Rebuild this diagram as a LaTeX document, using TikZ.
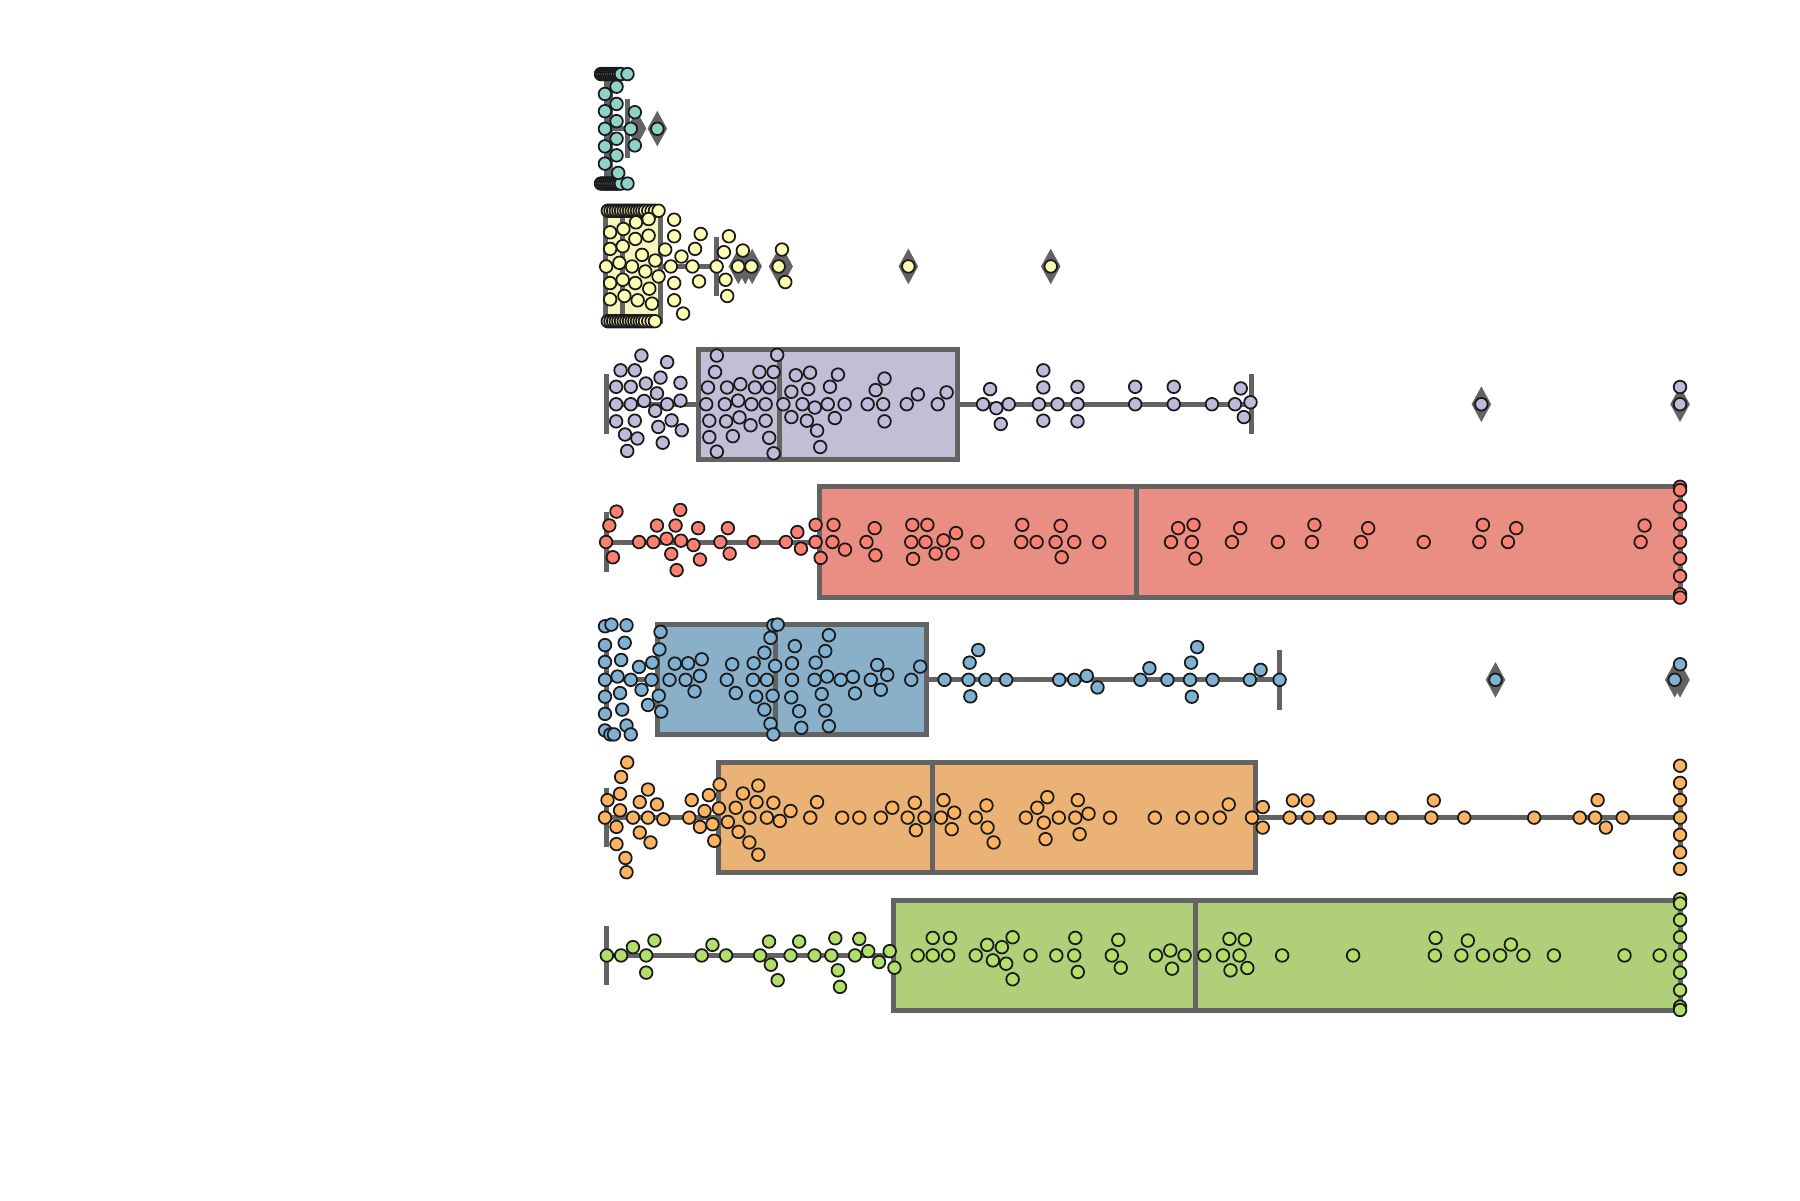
\documentclass[tikz,border=0pt]{standalone}
\definecolor{lc}{RGB}{99,99,99}
\definecolor{ec}{RGB}{26,26,26}
\definecolor{c1}{RGB}{141,211,199}
\definecolor{c2}{RGB}{255,255,179}
\definecolor{c3}{RGB}{190,186,218}
\definecolor{c4}{RGB}{251,128,114}
\definecolor{c5}{RGB}{128,177,211}
\definecolor{c6}{RGB}{253,180,98}
\definecolor{c7}{RGB}{179,222,105}
\definecolor{b1}{RGB}{150,202,193}
\definecolor{b2}{RGB}{245,245,188}
\definecolor{b3}{RGB}{193,190,214}
\definecolor{b4}{RGB}{234,142,131}
\definecolor{b5}{RGB}{138,175,201}
\definecolor{b6}{RGB}{234,179,117}
\definecolor{b7}{RGB}{175,207,120}
\tikzset{
  boxln/.style={draw=lc, line width=0.5mm},
  pt/.style={circle, inner sep=0pt, minimum size=1.26mm, draw=ec, line width=0.5pt, fill=#1},
}
\newcommand{\swarmdots}[7]{%
  \foreach \px/\py [count=\ii] in {#7} \node[pt=#1] (#2-\ii) at ({#3+#4*\px},{#5+#6*\py}) {};}
\newcommand{\flierdia}[2]{\fill[lc] ({#1},{#2-15.5}) -- ({#1+8.5},{#2}) -- ({#1},{#2+15.5}) -- ({#1-8.5},{#2}) -- cycle;}
\newcommand{\capline}[2]{\draw[boxln] ({#1},{#2-26}) -- ({#1},{#2+26});}
\begin{document}
\begin{tikzpicture}[x=0.11483mm, y=-0.11483mm]
\fill[white] (0,0) rectangle (1567.5,1045);
\useasboundingbox (0,0) rectangle (1567.5,1045);

% ---------------- row 1 (teal)
\draw[boxln] (528,112) -- (546.5,112);
\capline{528}{112}\capline{546.5}{112}
\draw[boxln, fill=b1] (528,64) rectangle (532,160);
\flierdia{554.3}{112}\flierdia{572.4}{112}
\swarmdots{c1}{t1}{435.8}{0.2889}{35.6}{0.2889}{303/100,309/100,315/100,321/100,327/100,333/100,339/100,345/100,351/100,357/100,363/100,383/100,
303/430,309/430,315/430,321/430,327/430,333/430,339/430,345/430,351/430,357/430,363/430,383/430,
315/160,315/212,315/265,315/318,315/370,350/138,350/190,350/242,350/295,350/345,355/398,405/215,393/265,405/315,473/265}

% ---------------- row 2 (yellow)
\draw[boxln] (575.5,232) -- (624,232);
\capline{527}{232}\capline{624}{232}
\draw[boxln, fill=b2] (527,184) rectangle (575.5,280);
\draw[boxln] (542,184) -- (542,280);
\flierdia{643}{232}\flierdia{649}{232}\flierdia{655}{232}\flierdia{678}{232}\flierdia{682}{232}\flierdia{791}{232}\flierdia{915}{232}
\swarmdots{c2}{t2}{513.4}{0.2889}{170.5}{0.2889}{55/45,63/45,71/45,79/45,87/45,95/45,103/45,111/45,119/45,127/45,135/45,143/45,151/45,159/45,167/45,177/45,187/45,197/45,208/45,
55/378,63/378,71/378,79/378,87/378,95/378,103/378,111/378,119/378,127/378,135/378,143/378,151/378,159/378,167/378,177/378,187/378,197/378,
255/72,62/110,102/100,140/80,178/70,255/122,335/115,420/122,62/160,100/152,138/130,178/120,228/162,277/183,318/160,405/170,462/165,580/162,50/213,90/202,128/213,158/178,198/195,245/213,310/213,383/213,448/213,488/213,570/213,62/263,100/253,138/263,168/228,208/243,180/280,255/263,330/258,410/253,590/260,62/312,105/302,145/315,188/325,255/315,415/302,282/355}
\node[pt=c2] (t2x1) at (791,232) {};
\node[pt=c2] (t2x2) at (915,232) {};

% ---------------- row 3 (lavender)
\draw[boxln] (528,352) -- (608,352);
\draw[boxln] (834,352) -- (1090,352);
\capline{528}{352}\capline{1090}{352}
\draw[boxln, fill=b3] (608,304) rectangle (834,400);
\draw[boxln] (679,304) -- (679,400);
\flierdia{1290}{352}\flierdia{1463}{352}
\swarmdots{c3}{t3}{515.3}{0.3863}{292.39}{0.2866}{112/60,170/80,65/105,97/105,155/127,200/143,55/155,88/155,122/145,147/175,55/208,88/208,118/198,170/208,200/197,143/228,55/260,97/258,150/277,180/257,203/287,75/300,103/312,160/325,80/350,
282/60,418/58,278/110,378/110,410/110,262/157,305/157,335/147,368/157,400/157,258/208,300/208,330/197,360/208,392/208,265/258,303/260,333/248,358/272,392/258,265/308,318/305,400/310,282/352,410/357,
460/120,492/112,555/118,450/170,488/162,537/155,432/208,475/208,503/218,532/208,570/208,450/247,485/258,548/250,508/288,515/338,660/130,640/165,622/208,657/208,660/260,735/178,710/208,800/172,780/208,
898/162,882/208,912/220,940/208,922/268,1018/105,1018/157,1008/208,1050/208,1018/258,1095/155,1095/208,1095/260,1225/155,1225/208,1312/155,1312/208,1398/208,1463/160,1450/208,1485/202,1470/247}
\node[pt=c3] (t3x1) at (1290,352) {};
\node[pt=c3] (t3x2) at (1463,337) {};
\node[pt=c3] (t3x3) at (1463,352) {};

% ---------------- row 4 (red)
\draw[boxln] (528,472) -- (714,472);
\capline{528}{472}\capline{1463}{472}
\draw[boxln, fill=b4] (714,424) rectangle (1463,520);
\draw[boxln] (990,424) -- (990,520);
\swarmdots{c4}{t4a}{517.5}{0.3119}{418.14}{0.288}{62/95,42/137,33/187,52/233,125/187,165/187,175/137,202/177,240/90,227/137,242/183,277/196,290/145,215/223,230/272,295/240,352/187,373/145,378/222,445/187,535/187,567/157,577/207,618/135,618/187,632/235,668/135,665/187,700/210,783/145,760/187,785/227,888/135,930/135,885/187,925/187,975/182,1010/160,890/238,953/222,1000/222,1070/187,1195/135,1192/187,1235/187,1302/138,1288/187,1340/187,1305/233,1410/187}
\swarmdots{c4}{t4b}{991}{0.3122}{418.14}{0.288}{112/145,155/135,92/187,150/187,160/237,285/145,262/187,390/187,492/135,485/187,642/145,622/187,797/187,962/135,952/187,1055/145,1032/187,1413/137,1402/187,1512/20,1512/30,1512/80,1512/133,1512/187,1512/237,1512/290,1512/345,1512/355}

% ---------------- row 5 (blue)
\draw[boxln] (528,592) -- (572.5,592);
\draw[boxln] (807,592) -- (1114.3,592);
\capline{528}{592}\capline{1114.3}{592}
\draw[boxln, fill=b5] (572.5,544) rectangle (807,640);
\draw[boxln] (675,544) -- (675,640);
\flierdia{1302.3}{592}\flierdia{1458.4}{592}\flierdia{1463}{592}
\swarmdots{c5}{t5a}{517.5}{0.3119}{538.14}{0.288}{30/25,48/20,90/22,30/82,85/75,30/133,75/127,30/187,65/177,102/187,30/238,72/227,30/290,78/277,30/340,90/325,45/352,55/352,102/352,125/148,162/135,160/187,132/217,150/263,185/42,182/95,180/235,187/283,225/138,262/137,300/125,210/187,255/187,295/175,280/222,385/140,370/187,395/227,445/137,475/105,492/60,500/22,512/20,443/187,482/187,505/145,452/238,498/235,475/277,492/320,500/352,560/85,552/137,552/187,550/240,572/282,578/332,655/52,645/100,618/135,615/187,650/177,635/230,645/280,655/327,688/187,722/178,728/228,772/187,790/142,818/172,800/217,885/187,910/147,978/187,1045/187,1048/135,1072/97,1050/237,1092/187,1150/187,1298/187,1340/187,1375/175,1405/210,1525/187,1550/152}
\swarmdots{c5}{t5b}{991}{0.3122}{538.14}{0.288}{82/187,148/135,165/88,145/187,150/238,208/187,312/187,342/157,395/187,997/187,1497/187,1512/140}

% ---------------- row 6 (orange)
\draw[boxln] (528,712) -- (625.5,712);
\draw[boxln] (1093,712) -- (1463,712);
\capline{528}{712}\capline{1463}{712}
\draw[boxln, fill=b6] (625.5,664) rectangle (1093,760);
\draw[boxln] (812,664) -- (812,760);
\swarmdots{c6}{t6a}{517.5}{0.3119}{658.72}{0.288}{92/18,75/62,72/113,37/132,72/163,30/185,62/213,62/265,87/307,90/350,108/185,127/138,150/100,150/185,175/145,193/190,127/230,157/260,272/132,265/185,295/213,308/165,320/117,350/85,348/157,330/205,335/255,373/198,395/155,415/112,403/228,433/260,458/297,458/88,453/138,433/185,482/185,500/140,518/195,548/165,603/185,622/138,692/185,740/185,800/185,832/155,895/140,875/185,922/185,898/223,975/132,968/185,1005/170,998/220,1065/185,1095/148,1098/215,1115/260,1205/185,1237/155,1265/123,1255/200,1260/250,1297/185,1343/185,1350/132,1380/173,1355/235,1440/185,1565/185}
\swarmdots{c6}{t6b}{991}{0.3122}{658.72}{0.288}{125/185,178/185,228/185,253/145,318/185,348/153,348/215,432/133,473/133,423/185,475/185,535/185,653/185,708/185,825/133,818/185,910/185,1105/185,1232/185,1282/132,1275/185,1305/215,1352/185,1512/28,1512/80,1512/132,1512/185,1512/237,1512/290,1512/340}

% ---------------- row 7 (green)
\draw[boxln] (528,832) -- (778,832);
\capline{528}{832}\capline{1463}{832}
\draw[boxln, fill=b7] (778,784) rectangle (1463,880);
\draw[boxln] (1041,784) -- (1041,880);
\swarmdots{c7}{t7a}{517.5}{0.3119}{778.72}{0.288}{35/185,75/185,108/160,145/185,168/140,145/237,300/185,330/153,368/185,463/185,488/143,493/213,512/260,548/185,572/143,615/185,662/185,673/133,680/230,686/280,728/185,740/135,765/172,795/205,825/172,838/222,903/185,945/132,945/185,993/132,988/185,1065/185,1097/153,1113/200,1138/160,1168/130,1150/210,1168/257,1218/185,1290/185,1343/132,1340/185,1350/235,1463/138,1445/185,1470/222}
\swarmdots{c7}{t7b}{991}{0.3122}{778.72}{0.288}{50/185,90/170,130/185,95/225,185/185,237/185,255/135,298/137,283/185,258/230,305/223,402/185,600/185,830/132,828/185,920/140,902/185,962/185,1010/185,1040/152,1075/185,1160/185,1357/185,1455/185,1512/15,1512/28,1512/78,1512/130,1512/185,1512/237,1512/290,1512/340,1512/350}
\end{tikzpicture}
\end{document}
